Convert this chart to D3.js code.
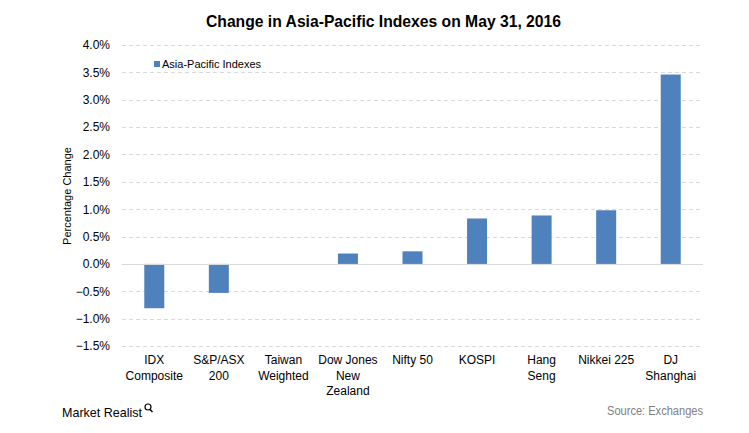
<!DOCTYPE html>
<html><head><meta charset="utf-8">
<script src="https://cdn.jsdelivr.net/npm/d3@7"></script>
<style>body{margin:0;background:#fff}svg{display:block}</style>
</head><body>
<script>
const categories = [["IDX","Composite"],["S&P/ASX","200"],["Taiwan","Weighted"],["Dow Jones","New","Zealand"],["Nifty 50"],["KOSPI"],["Hang","Seng"],["Nikkei 225"],["DJ","Shanghai"]];
const values = [-0.81, -0.53, 0.0, 0.19, 0.23, 0.83, 0.885, 0.98, 3.46];
const yTicks = [-1.5,-1.0,-0.5,0.0,0.5,1.0,1.5,2.0,2.5,3.0,3.5,4.0];
const seriesName = "Asia-Pacific Indexes";

(function(){
const W=749,H=433;
const svg=d3.select("body").append("svg").attr("width",W).attr("height",H);
const mLeft=122,mRight=703,mTop=45,mBottom=346;
const x=d3.scaleBand().domain(d3.range(categories.length)).range([mLeft,mRight]);
const y=d3.scaleLinear().domain([-1.5,4.0]).range([mBottom,mTop]);
const font="'Liberation Sans', Arial, sans-serif";
const narrow="'Liberation Sans Narrow', 'Arial Narrow', 'Liberation Sans', Arial, sans-serif";

svg.append("text").attr("x",206).attr("y",27)
  .attr("font-family",narrow).attr("font-weight","bold").attr("font-size",17).attr("fill","#000")
  .attr("textLength",355).attr("lengthAdjust","spacingAndGlyphs")
  .text("Change in Asia-Pacific Indexes on May 31, 2016");

svg.append("g").selectAll("line").data(yTicks.filter(d=>d!==0)).join("line")
  .attr("x1",mLeft).attr("x2",mRight).attr("y1",d=>Math.round(y(d))+0.5).attr("y2",d=>Math.round(y(d))+0.5)
  .attr("stroke","#d9d9d9").attr("stroke-dasharray","4,3");

const yAxis=d3.axisLeft(y).tickValues(yTicks).tickFormat(d=>d3.format(".1f")(d)+"%").tickSize(0).tickPadding(12);
const ga=svg.append("g").attr("transform",`translate(${mLeft},0)`).call(yAxis);
ga.select(".domain").remove();
ga.selectAll("text").attr("font-family",font).attr("font-size",12).attr("fill","#000");

svg.append("g").selectAll("rect").data(values).join("rect")
  .attr("x",(d,i)=>x(i)+x.bandwidth()/2-10).attr("width",20)
  .attr("y",d=>y(Math.max(0,d))).attr("height",d=>Math.abs(y(d)-y(0)))
  .attr("fill","#4f81bd");

svg.append("line").attr("x1",mLeft).attr("x2",mRight).attr("y1",Math.round(y(0))+0.5).attr("y2",Math.round(y(0))+0.5)
  .attr("stroke","#d9d9d9").attr("stroke-width",1);

const cg=svg.append("g");
categories.forEach((lines,i)=>{
  const t=cg.append("text").attr("text-anchor","middle").attr("font-family",font).attr("font-size",12).attr("fill","#000");
  lines.forEach((l,j)=>t.append("tspan").attr("x",x(i)+x.bandwidth()/2).attr("y",364+j*15.5).text(l));
});

svg.append("text").attr("transform","translate(71,196) rotate(-90)").attr("text-anchor","middle")
  .attr("font-family",font).attr("font-size",11).attr("fill","#000").text("Percentage Change");

svg.append("rect").attr("x",154).attr("y",61).attr("width",6).attr("height",6).attr("fill","#4f81bd");
svg.append("text").attr("x",162).attr("y",67.5).attr("font-family",font).attr("font-size",11).attr("fill","#000").text(seriesName);

svg.append("text").attr("x",62).attr("y",417).attr("font-family",narrow).attr("font-size",13).attr("fill","#000")
  .attr("textLength",80).attr("lengthAdjust","spacingAndGlyphs").text("Market Realist");
svg.append("circle").attr("cx",148).attr("cy",407).attr("r",3).attr("fill","none").attr("stroke","#000").attr("stroke-width",1.2);
svg.append("line").attr("x1",150).attr("y1",409.5).attr("x2",152.5).attr("y2",412).attr("stroke","#000").attr("stroke-width",1.4);
svg.append("text").attr("x",607).attr("y",415).attr("font-family",narrow).attr("font-size",12).attr("fill","#808080")
  .attr("textLength",96).attr("lengthAdjust","spacingAndGlyphs").text("Source: Exchanges");
})();
</script>
</body></html>
